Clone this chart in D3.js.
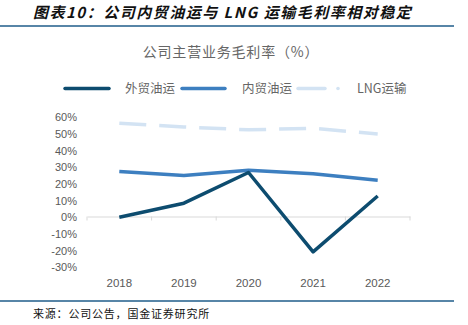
<!DOCTYPE html>
<html>
<head>
<meta charset="utf-8">
<script src="https://cdn.jsdelivr.net/npm/d3@7"></script>
<style>
  body { margin: 0; background: #fff; }
  svg text { font-family: "Noto Sans CJK SC", "Noto Sans", sans-serif; }
  svg text.num { font-family: "Liberation Sans", Arial, sans-serif; }
</style>
</head>
<body>
<svg id="chart" width="468" height="325"></svg>
<script>
// data
const years = ['2018', '2019', '2020', '2021', '2022'];
const foreignOil = [-0.5, 8.0, 26.4, -21.2, 12.3];   // 外贸油运
const domesticOil = [27.0, 24.6, 27.8, 25.6, 21.8];  // 内贸油运
const lngShipping = [56.0, 53.7, 52.0, 52.9, 49.5];  // LNG运输
const yTicks = [60, 50, 40, 30, 20, 10, 0, -10, -20, -30];

const seriesNames = ['外贸油运', '内贸油运', 'LNG运输'];
const seriesColors = ['#0d4c6f', '#3d7fc0', '#d3e3f3'];
const seriesValues = [foreignOil, domesticOil, lngShipping];

const svg = d3.select('#chart');

// Header and footer
svg.append('text')
    .attr('x', 33).attr('y', 18)
    .attr('font-size', 15).attr('font-weight', 'bold').attr('font-style', 'italic')
    .attr('letter-spacing', 1.5)
    .attr('fill', '#111')
    .text('图表10：公司内贸油运与 LNG 运输毛利率相对稳定');
svg.append('line').attr('x1', 0).attr('x2', 454).attr('y1', 26).attr('y2', 26)
    .attr('stroke', '#1f5c8a').attr('stroke-width', 1.5);
svg.append('line').attr('x1', 0).attr('x2', 454).attr('y1', 301).attr('y2', 301)
    .attr('stroke', '#1f5c8a').attr('stroke-width', 1.5);
svg.append('text')
    .attr('x', 33).attr('y', 318)
    .attr('font-size', 11).attr('fill', '#111')
    .attr('letter-spacing', 0.8)
    .text('来源：公司公告，国金证券研究所');

svg.append('text')
    .attr('x', 231).attr('y', 57)
    .attr('text-anchor', 'middle')
    .attr('font-size', 14).attr('fill', '#666')
    .attr('letter-spacing', 0.8)
    .text('公司主营业务毛利率（%）');

// Scales
const x = d3.scaleBand().domain(years).range([87, 410]);
const y = d3.scaleLinear().domain([-30, 60]).range([266.5, 116.5]);

// y labels (no axis line)
svg.append('g').selectAll('text').data(yTicks).join('text')
    .attr('class', 'num')
    .attr('x', 77).attr('y', d => y(d) + 1)
    .attr('dy', '0.35em')
    .attr('text-anchor', 'end')
    .attr('font-size', 11).attr('fill', '#595959')
    .text(d => d + '%');

// x axis at zero
const xAxis = svg.append('g')
    .attr('transform', `translate(0,${y(0)})`)
    .call(d3.axisBottom(x).tickSize(0).tickFormat(() => ''));
xAxis.select('.domain').attr('stroke', '#d9d9d9').attr('stroke-width', 1);
svg.append('g').selectAll('line')
    .data(d3.range(years.length + 1))
    .join('line')
    .attr('x1', i => 87 + i * x.step()).attr('x2', i => 87 + i * x.step())
    .attr('y1', y(0)).attr('y2', y(0) + 4)
    .attr('stroke', '#d9d9d9');

svg.append('g').selectAll('text').data(years).join('text')
    .attr('class', 'num')
    .attr('x', d => x(d) + x.bandwidth() / 2)
    .attr('y', 287)
    .attr('text-anchor', 'middle')
    .attr('font-size', 11.5).attr('fill', '#595959')
    .text(d => d);

// Lines
const line = d3.line()
    .x((d, i) => x(years[i]) + x.bandwidth() / 2)
    .y(d => y(d));

const drawOrder = [2, 1, 0];
drawOrder.forEach(k => {
    svg.append('path')
        .datum(seriesValues[k])
        .attr('fill', 'none')
        .attr('stroke', seriesColors[k])
        .attr('stroke-width', 3.5)
        .attr('stroke-linejoin', 'round')
        .attr('stroke-dasharray', k === 2 ? '27,13' : null)
        .attr('d', line);
});

// Legend
const legendItems = [
    { x: 65, w: 44, tx: 125 },
    { x: 182, w: 43, tx: 242 },
    { x: 298, w: 27, tx: 357 }
];
const legend = svg.append('g');
legendItems.forEach((it, k) => {
    legend.append('line')
        .attr('x1', it.x).attr('x2', it.x + it.w)
        .attr('y1', 88.5).attr('y2', 88.5)
        .attr('stroke', seriesColors[k]).attr('stroke-width', 3.5)
        .attr('stroke-linecap', 'round');
    if (k === 2) {
        legend.append('circle').attr('cx', 338).attr('cy', 88.5).attr('r', 1.8)
            .attr('fill', seriesColors[k]);
    }
    legend.append('text')
        .attr('x', it.tx).attr('y', 88.5).attr('dy', '0.35em')
        .attr('font-size', 12.5).attr('fill', '#666')
        .text(seriesNames[k]);
});
</script>
</body>
</html>
